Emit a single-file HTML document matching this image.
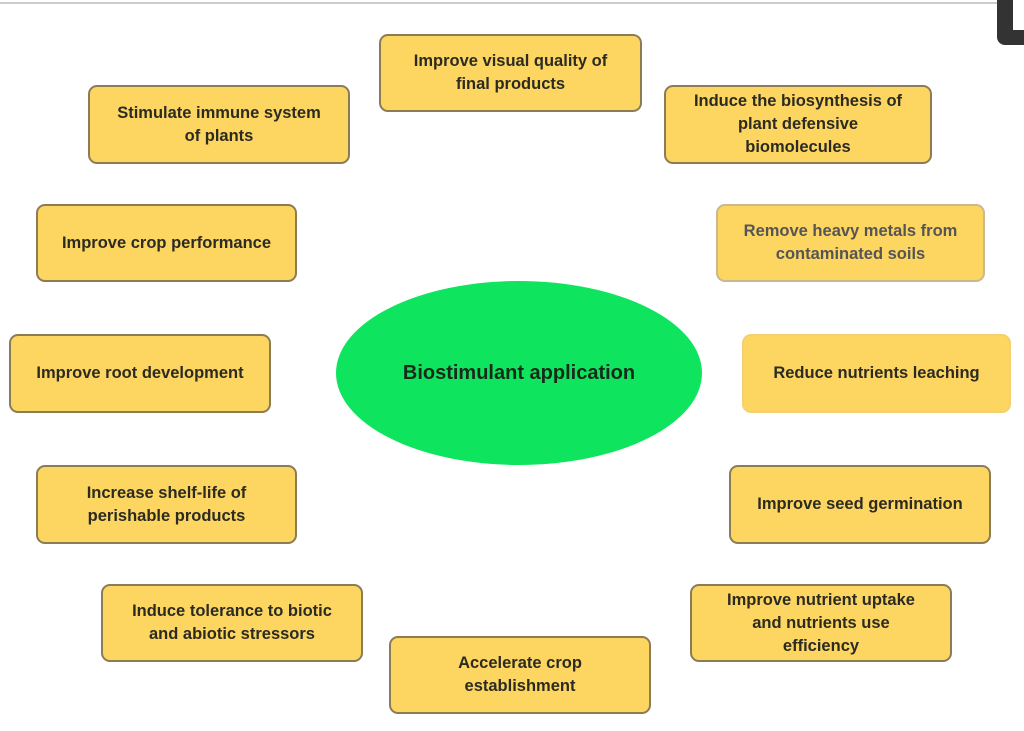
<!DOCTYPE html>
<html><head><meta charset="utf-8"><style>
body{margin:0;width:1024px;height:731px;background:#fff;position:relative;overflow:hidden;font-family:"Liberation Sans",Arial,sans-serif}
.b{position:absolute;box-sizing:border-box;background:#fdd561;border:2px solid #8c7c55;border-radius:9px;display:flex;align-items:center;justify-content:center;text-align:center;font-weight:bold;font-size:16.5px;line-height:23px;color:#2b2b22}
#e{position:absolute;left:336px;top:281px;width:366px;height:184px;border-radius:50%;background:#0ee45e;display:flex;align-items:center;justify-content:center;font-weight:bold;font-size:20px;color:#1a2a1a}
</style></head><body>
<div style="position:absolute;left:0;top:2px;width:1000px;height:2px;background:#ccc"></div>
<div style="position:absolute;left:997px;top:-10px;width:40px;height:55px;background:#333;border-radius:8px"></div>
<div style="position:absolute;left:1010px;top:0;width:14px;height:30px;background:#fff;border-left:3px solid #333"></div>
<div id="e">Biostimulant application</div>
<div class="b" style="left:379px;top:34px;width:263px;height:78px">Improve visual quality of<br>final products</div>
<div class="b" style="left:88px;top:85px;width:262px;height:79px">Stimulate immune system<br>of plants</div>
<div class="b" style="left:664px;top:85px;width:268px;height:79px">Induce the biosynthesis of<br>plant defensive<br>biomolecules</div>
<div class="b" style="left:36px;top:204px;width:261px;height:78px">Improve crop performance</div>
<div class="b" style="left:716px;top:204px;width:269px;height:78px;color:#555;border-color:#c9b890">Remove heavy metals from<br>contaminated soils</div>
<div class="b" style="left:9px;top:334px;width:262px;height:79px">Improve root development</div>
<div class="b" style="left:742px;top:334px;width:269px;height:79px;border-color:#f5d070">Reduce nutrients leaching</div>
<div class="b" style="left:36px;top:465px;width:261px;height:79px">Increase shelf-life of<br>perishable products</div>
<div class="b" style="left:729px;top:465px;width:262px;height:79px">Improve seed germination</div>
<div class="b" style="left:101px;top:584px;width:262px;height:78px">Induce tolerance to biotic<br>and abiotic stressors</div>
<div class="b" style="left:690px;top:584px;width:262px;height:78px">Improve nutrient uptake<br>and nutrients use<br>efficiency</div>
<div class="b" style="left:389px;top:636px;width:262px;height:78px">Accelerate crop<br>establishment</div>
</body></html>
